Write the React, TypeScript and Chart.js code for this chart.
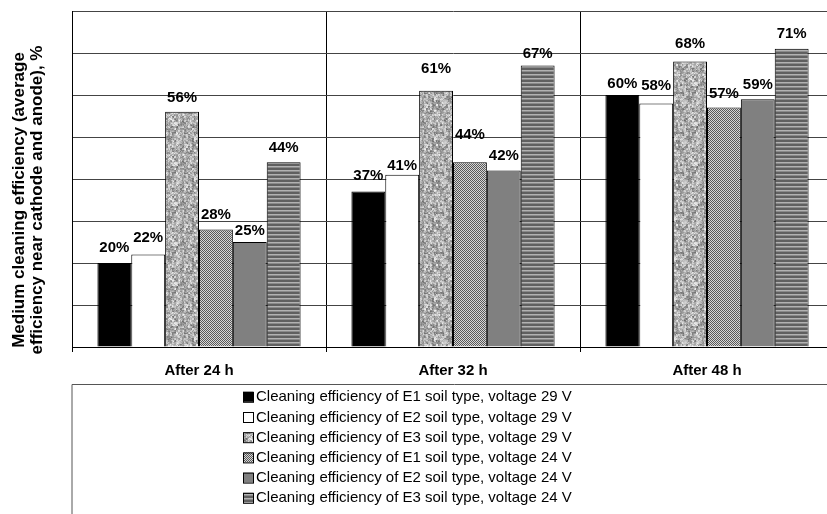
import React, { useEffect, useRef } from "react";
import { Chart, registerables } from "chart.js";

Chart.register(...registerables);

// ---------- data ----------
const CATEGORIES = ["After 24 h", "After 32 h", "After 48 h"];
const SERIES_LABELS = [
  "Cleaning efficiency of E1 soil type, voltage 29 V",
  "Cleaning efficiency of E2 soil type, voltage 29 V",
  "Cleaning efficiency of E3 soil type, voltage 29 V",
  "Cleaning efficiency of E1 soil type, voltage 24 V",
  "Cleaning efficiency of E2 soil type, voltage 24 V",
  "Cleaning efficiency of E3 soil type, voltage 24 V",
];
const E1_29V = [20, 37, 60];
const E2_29V = [22, 41, 58];
const E3_29V = [56, 61, 68];
const E1_24V = [28, 44, 57];
const E2_24V = [25, 42, 59];
const E3_24V = [44, 67, 71];
const SERIES_VALUES = [E1_29V, E2_29V, E3_29V, E1_24V, E2_24V, E3_24V];
const Y_MIN = 0;
const Y_MAX = 80;
const Y_STEP = 10;
const Y_TITLE_LINES = [
  "Medium cleaning efficiency (average",
  "efficiency near cathode and anode), %",
];

// ---------- styling (pixels) ----------
// distance from bar top to label centre, per series / category
const LABEL_LIFT = [
  [15, 15.5, 11],
  [16.5, 9, 18],
  [14, 22, 18],
  [15, 27, 14],
  [11.5, 15, 14],
  [14, 11.5, 15],
];
const FONT = 'Arial, "Liberation Sans", sans-serif';

function hash(x: number, y: number): number {
  let n = Math.imul(x, 374761393) + Math.imul(y, 668265263);
  n = Math.imul(n ^ (n >>> 13), 1274126177);
  n = n ^ (n >>> 16);
  return (n >>> 0) / 4294967295;
}

function makeTile(w: number, h: number, px: (x: number, y: number) => number) {
  const c = document.createElement("canvas");
  c.width = w;
  c.height = h;
  const cx = c.getContext("2d")!;
  const img = cx.createImageData(w, h);
  for (let y = 0; y < h; y++) {
    for (let x = 0; x < w; x++) {
      const g = Math.max(0, Math.min(255, Math.round(px(x, y))));
      const i = (y * w + x) * 4;
      img.data[i] = g;
      img.data[i + 1] = g;
      img.data[i + 2] = g;
      img.data[i + 3] = 255;
    }
  }
  cx.putImageData(img, 0, 0);
  return c;
}

export default function App() {
  const ref = useRef<HTMLCanvasElement | null>(null);

  useEffect(() => {
    const canvas = ref.current;
    if (!canvas) return;
    const ctx0 = canvas.getContext("2d")!;

    const speckle = ctx0.createPattern(
      makeTile(40, 40, (x, y) => {
        const v = 0.6 * hash(x >> 1, (y >> 1) + 999) + 0.4 * hash(x, y);
        return 105 + v * 140;
      }),
      "repeat"
    )!;
    const checker = ctx0.createPattern(
      makeTile(2, 2, (x, y) => ((x + y) % 2 === 0 ? 88 : 214)),
      "repeat"
    )!;
    const stripes = ctx0.createPattern(
      makeTile(1, 4, (_x, y) => [96, 96, 178, 138][y]),
      "repeat"
    )!;

    const fills: (string | CanvasPattern)[] = [
      "#000000",
      "#ffffff",
      speckle,
      checker,
      "#808080",
      stripes,
    ];

    const valueLabels = {
      id: "valueLabels",
      afterDatasetsDraw(chart: any) {
        const ctx = chart.ctx;
        ctx.save();
        ctx.font = `bold 15px ${FONT}`;
        ctx.fillStyle = "#000";
        ctx.textAlign = "center";
        ctx.textBaseline = "middle";
        chart.data.datasets.forEach((ds: any, i: number) => {
          const meta = chart.getDatasetMeta(i);
          meta.data.forEach((el: any, j: number) => {
            ctx.fillText(`${ds.data[j]}%`, el.x, el.y - LABEL_LIFT[i][j]);
          });
        });
        ctx.restore();
      },
    };

    const extras = {
      id: "extras",
      afterDraw(chart: any) {
        const ctx = chart.ctx;
        const area = chart.chartArea;
        ctx.save();
        // y title
        ctx.font = `bold 17px ${FONT}`;
        ctx.fillStyle = "#000";
        ctx.textAlign = "center";
        ctx.textBaseline = "middle";
        const cy = 200;
        ctx.translate(0, cy);
        ctx.rotate(-Math.PI / 2);
        ctx.fillText(Y_TITLE_LINES[0], 0, 19);
        ctx.fillText(Y_TITLE_LINES[1], 0, 37);
        ctx.restore();

        // legend box
        ctx.save();
        const boxTop = 384.5;
        const boxLeft = area.left;
        ctx.strokeStyle = "#555";
        ctx.lineWidth = 1;
        ctx.beginPath();
        ctx.moveTo(boxLeft, chart.height + 2);
        ctx.lineTo(boxLeft, boxTop);
        ctx.lineTo(chart.width + 2, boxTop);
        ctx.stroke();

        ctx.font = `15px ${FONT}`;
        ctx.textAlign = "left";
        ctx.textBaseline = "middle";
        chart.data.datasets.forEach((ds: any, i: number) => {
          const yc = 396.8 + i * 20.2;
          ctx.fillStyle = ds.backgroundColor;
          ctx.fillRect(243, yc - 5, 10, 10);
          ctx.strokeStyle = "#000";
          ctx.strokeRect(243.5, yc - 4.5, 10, 10);
          ctx.fillStyle = "#000";
          ctx.fillText(ds.label, 256, yc + 0.5);
        });
        ctx.restore();
      },
    };

    const chart = new Chart(canvas, {
      type: "bar",
      data: {
        labels: CATEGORIES,
        datasets: SERIES_VALUES.map((vals, i) => ({
          label: SERIES_LABELS[i],
          data: vals,
          backgroundColor: fills[i] as any,
          borderColor: "#000",
          borderWidth: 1,
          categoryPercentage: 0.8,
          barPercentage: 1.0,
        })),
      },
      options: {
        responsive: false,
        animation: false,
        events: [],
        layout: { padding: { left: 72, right: 2, top: 11, bottom: 124 } },
        plugins: {
          legend: { display: false },
          tooltip: { enabled: false },
          title: { display: false },
        },
        scales: {
          x: {
            grid: {
              offset: true,
              color: "#000",
              lineWidth: 1,
              tickLength: 5,
              drawTicks: true,
            },
            border: { display: true, color: "#000", width: 1 },
            ticks: {
              color: "#000",
              padding: 10,
              font: { family: FONT, size: 15, weight: "bold" },
            },
          },
          y: {
            min: Y_MIN,
            max: Y_MAX,
            ticks: { stepSize: Y_STEP, display: false },
            grid: { color: "#444", lineWidth: 1, drawTicks: false },
            border: { display: true, color: "#000", width: 1 },
          },
        },
      },
      plugins: [valueLabels, extras],
    });

    return () => chart.destroy();
  }, []);

  return (
    <div
      style={{
        position: "fixed",
        left: 0,
        top: 0,
        width: 827,
        height: 514,
        overflow: "hidden",
        background: "#fff",
      }}
    >
      <canvas
        ref={ref}
        width={836}
        height={514}
        style={{ display: "block", width: 836, height: 514 }}
      />
    </div>
  );
}
